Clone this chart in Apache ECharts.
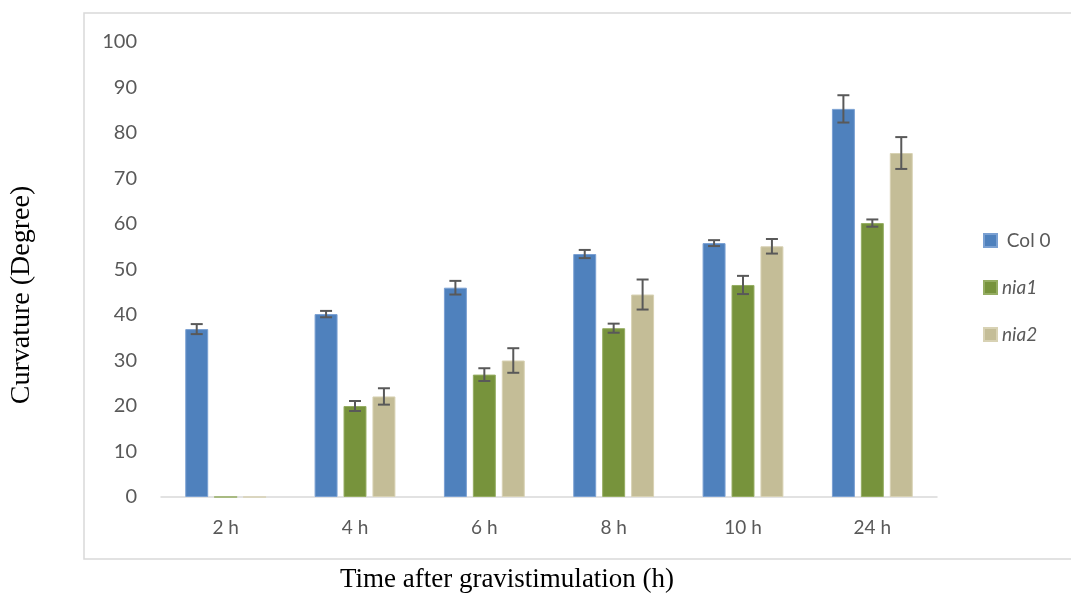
<!DOCTYPE html>
<html>
<head>
<meta charset="utf-8">
<script src="https://cdn.jsdelivr.net/npm/echarts@6/dist/echarts.min.js"></script>
<style>
html,body{margin:0;padding:0;background:#fff;}
#chart{width:1071px;height:594px;}
</style>
</head>
<body>
<div id="chart"></div>
<script>
const categories = ['2 h', '4 h', '6 h', '8 h', '10 h', '24 h'];
const seriesNames = ['Col 0', 'nia1', 'nia2'];
const col0 = [36.9, 40.2, 46.0, 53.4, 55.8, 85.3];
const nia1 = [0, 20.0, 26.9, 37.1, 46.6, 60.2];
const nia2 = [0, 22.1, 30.0, 44.5, 55.1, 75.6];
const col0Err = [1.1, 0.7, 1.5, 0.9, 0.65, 3.0];
const nia1Err = [0, 1.1, 1.4, 1.0, 2.0, 0.8];
const nia2Err = [0, 1.8, 2.7, 3.3, 1.6, 3.5];
const yTicks = [0, 10, 20, 30, 40, 50, 60, 70, 80, 90, 100];
const xTitle = 'Time after gravistimulation (h)';
const yTitle = 'Curvature (Degree)';

const values = [col0, nia1, nia2];
const errors = [col0Err, nia1Err, nia2Err];
const colors = ['#4f81bd', '#77933c', '#c4bd97'];
const borders = ['#7aa0d2', '#95ad62', '#d8d2b4'];
const CAT_GAP = 0.375;
const BAR_GAP = 0.26;

const chart = echarts.init(document.getElementById('chart'));

const barSeries = seriesNames.map((name, i) => ({
  name: name,
  type: 'bar',
  data: values[i],
  barGap: (BAR_GAP * 100) + '%',
  barCategoryGap: (CAT_GAP * 100) + '%',
  itemStyle: { color: colors[i], borderColor: borders[i], borderWidth: 1 },
  emphasis: { disabled: true },
  z: 2
}));

const errSeries = seriesNames.map((name, i) => ({
  name: name + '_err',
  type: 'custom',
  z: 5,
  silent: true,
  data: values[i].map((v, j) => [j, v, errors[i][j]]),
  renderItem: function (params, api) {
    const idx = api.value(0);
    const v = api.value(1);
    const e = api.value(2);
    if (!e) return null;
    const band = api.size([1, 0])[0];
    const usable = band * (1 - CAT_GAP);
    const bw = usable / (3 + 2 * BAR_GAP);
    const off = -usable / 2 + bw / 2 + i * bw * (1 + BAR_GAP);
    const top = api.coord([idx, v + e]);
    const bot = api.coord([idx, v - e]);
    const x = top[0] + off;
    const cap = 6;
    const st = { stroke: '#595959', lineWidth: 2 };
    return {
      type: 'group',
      children: [
        { type: 'line', shape: { x1: x, y1: top[1], x2: x, y2: bot[1] }, style: st },
        { type: 'line', shape: { x1: x - cap, y1: top[1], x2: x + cap, y2: top[1] }, style: st },
        { type: 'line', shape: { x1: x - cap, y1: bot[1], x2: x + cap, y2: bot[1] }, style: st }
      ]
    };
  }
}));

chart.setOption({
  animation: false,
  backgroundColor: '#ffffff',
  grid: { left: 161, right: 134, top: 42, bottom: 97, containLabel: false, outerBoundsMode: 'none' },
  graphic: [
    {
      type: 'rect',
      shape: { x: 84, y: 13, width: 1000, height: 546 },
      style: { fill: 'none', stroke: '#d9d9d9', lineWidth: 1.5 },
      silent: true,
      z: 0
    },
    {
      type: 'text',
      x: 507,
      y: 580,
      silent: true,
      style: {
        text: xTitle,
        font: '27px "Liberation Serif"',
        fill: '#000',
        align: 'center',
        verticalAlign: 'middle'
      }
    },
    {
      type: 'text',
      x: 22,
      y: 295,
      rotation: Math.PI / 2,
      silent: true,
      style: {
        text: yTitle,
        font: '28px "Liberation Serif"',
        fill: '#000',
        align: 'center',
        verticalAlign: 'middle'
      }
    }
  ],
  legend: {
    orient: 'vertical',
    left: 978,
    top: 226,
    itemWidth: 13,
    itemHeight: 13,
    itemGap: 28,
    icon: 'rect',
    data: seriesNames,
    selectedMode: false,
    formatter: function (name) {
      return name === 'Col 0' ? '{n| Col 0}' : '{i|' + name + '}';
    },
    textStyle: {
      color: '#595959',
      fontFamily: 'Lato',
      fontSize: 19,
      rich: {
        n: { fontStyle: 'normal', fontFamily: 'Lato', fontSize: 19, color: '#595959' },
        i: { fontStyle: 'italic', fontFamily: 'Lato', fontSize: 19, color: '#595959' }
      }
    }
  },
  xAxis: {
    type: 'category',
    data: categories,
    axisLine: { lineStyle: { color: '#d9d9d9', width: 1.5 } },
    axisTick: { show: false },
    axisLabel: { color: '#595959', fontFamily: 'Lato', fontSize: 19, margin: 21 }
  },
  yAxis: {
    type: 'value',
    min: 0,
    max: 100,
    interval: 10,
    axisLine: { show: false },
    axisTick: { show: false },
    splitLine: { show: false },
    axisLabel: {
      color: '#595959', fontFamily: 'Lato', fontSize: 20, margin: 24,
      formatter: function (v) { return yTicks.indexOf(v) >= 0 ? String(v) : ''; }
    }
  },
  series: barSeries.concat(errSeries)
});
</script>
</body>
</html>
